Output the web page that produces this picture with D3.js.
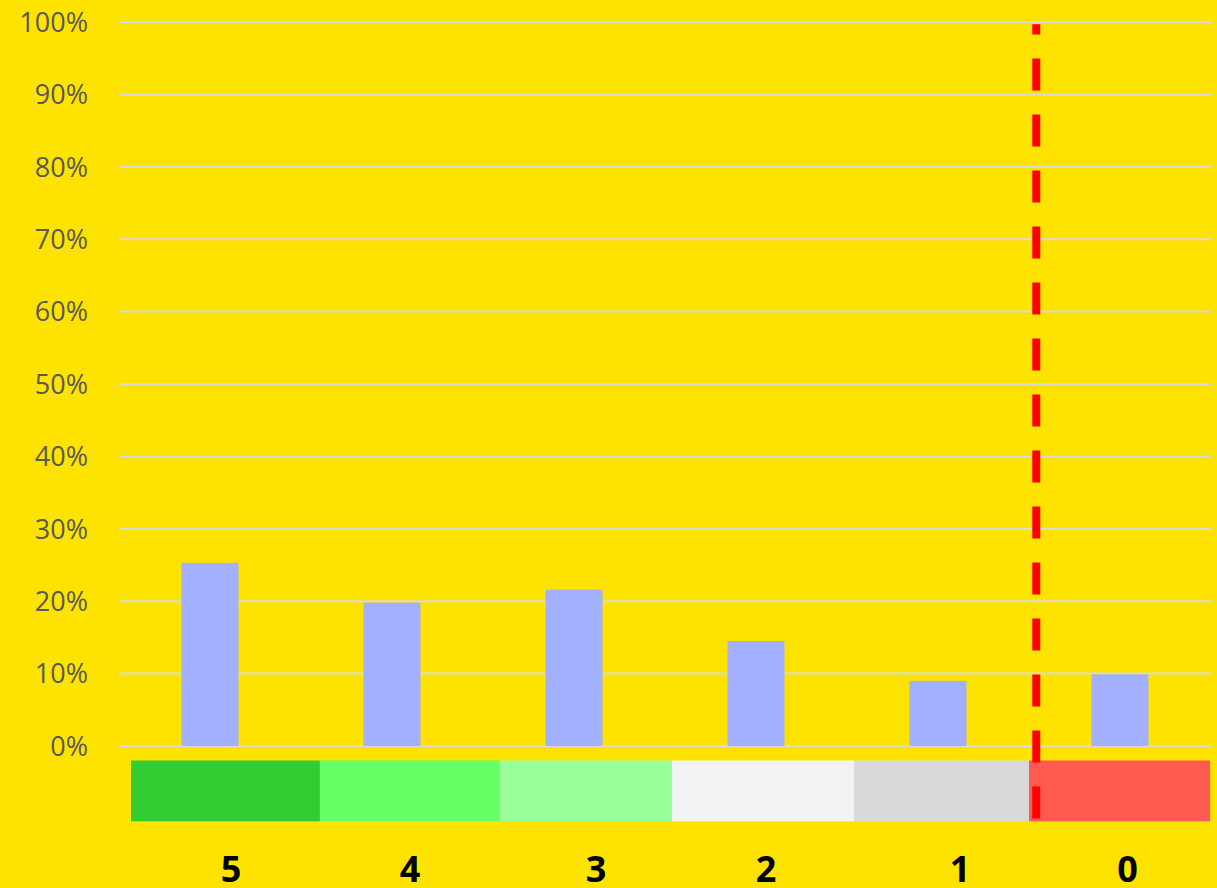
<!DOCTYPE html>
<html lang="en">
<head>
<meta charset="UTF-8">
<title>Score distribution</title>
<style>
    body { margin: 0; background: #FFE300; }
    svg { display: block; }
</style>
</head>
<body>
<svg></svg>
<script src="https://d3js.org/d3.v7.min.js"></script>
<script>
// data
const categories = ["5", "4", "3", "2", "1", "0"];
const shares = [0.253, 0.198, 0.216, 0.145, 0.090, 0.099];
const yTicks = d3.range(0, 1.0001, 0.1);

// colour band under the axis, edges in category units
const bandEdges = [0.066, 1.104, 2.093, 3.038, 4.038, 5.0, 5.995];
const bandColors = ["#33CC33", "#66FF66", "#99FF99", "#F2F2F2", "#D9D9D9", "#FF5A50"];
const bandOrder = [0, 1, 2, 4, 3, 5]; // grey sits under the white one
// label positions (category units)
const labelPos = [0.615, 1.599, 2.621, 3.555, 4.621, 5.541];
const cutoff = 5.04;

const width = 1217, height = 888;
const plotLeft = 119, plotRight = 1211, plotTop = 22, plotZero = 746;

const svg = d3.select("svg").attr("width", width).attr("height", height);

const x = d3.scaleBand().domain(categories).range([plotLeft, plotRight]).padding(0);
const xu = d3.scaleLinear().domain([0, 6]).range([plotLeft, plotRight]);
const y = d3.scaleLinear().domain([0, 1]).range([plotZero, plotTop]);

svg.append("rect").attr("width", width).attr("height", height).attr("fill", "#FFE300");

// gridlines
svg.append("g")
    .selectAll("line")
    .data(yTicks)
    .join("line")
    .attr("x1", plotLeft).attr("x2", plotRight)
    .attr("y1", d => y(d)).attr("y2", d => y(d))
    .attr("stroke", "#D9D9D9")
    .attr("stroke-width", 2);

// y labels
svg.append("g")
    .selectAll("text")
    .data(yTicks)
    .join("text")
    .attr("x", 88)
    .attr("y", d => y(d))
    .attr("dy", "0.36em")
    .attr("text-anchor", "end")
    .attr("font-family", "'Open Sans', sans-serif")
    .attr("font-size", 27)
    .attr("fill", "#595959")
    .text(d => d3.format(".0%")(d));

// bars
const bw = x.bandwidth() * 0.313;
svg.append("g")
    .selectAll("rect")
    .data(categories)
    .join("rect")
    .attr("x", (d) => x(d) + (x.bandwidth() - bw) / 2)
    .attr("width", bw)
    .attr("y", (d, i) => y(shares[i]))
    .attr("height", (d, i) => y(0) - y(shares[i]))
    .attr("fill", "#A3AFFF");

// colour strip
svg.append("g")
    .selectAll("rect")
    .data(bandOrder)
    .join("rect")
    .attr("x", i => xu(bandEdges[i]))
    .attr("width", i => xu(bandEdges[i + 1]) - xu(bandEdges[i]))
    .attr("y", y(-0.02))
    .attr("height", y(-0.104) - y(-0.02))
    .attr("fill", i => bandColors[i]);

// red dashed cutoff, dashes laid from the bottom up
svg.append("line")
    .attr("x1", xu(cutoff)).attr("x2", xu(cutoff))
    .attr("y1", y(-0.1)).attr("y2", y(0.997))
    .attr("stroke", "#FF0000")
    .attr("stroke-width", 8)
    .attr("stroke-dasharray", "32,24");

// category labels
svg.append("g")
    .selectAll("text")
    .data(categories)
    .join("text")
    .attr("x", (d, i) => xu(labelPos[i]))
    .attr("y", 882)
    .attr("text-anchor", "middle")
    .attr("font-family", "'Open Sans', sans-serif")
    .attr("font-weight", "bold")
    .attr("font-size", 36)
    .attr("fill", "#000")
    .text(d => d);
</script>
</body>
</html>
